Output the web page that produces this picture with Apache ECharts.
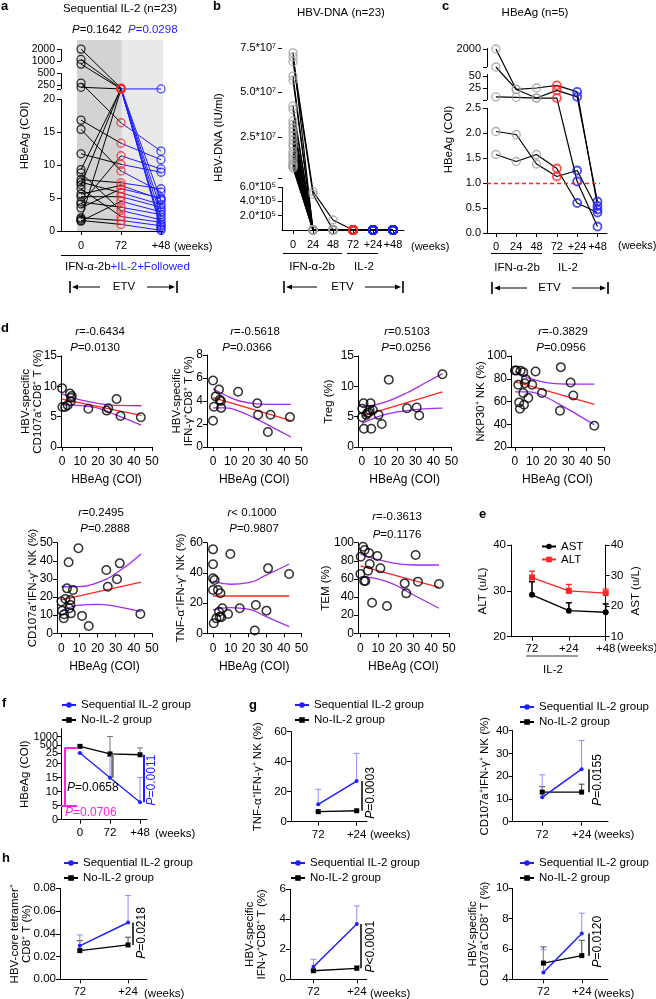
<!DOCTYPE html>
<html>
<head>
<meta charset="utf-8">
<script src="https://cdn.jsdelivr.net/npm/echarts@6.0.0/dist/echarts.min.js"></script>
<style>
html,body{margin:0;padding:0;background:#fff;}
#chart{width:656px;height:999px;}
</style>
</head>
<body>
<div id="chart"></div>
<script>
// ======================= DATA =======================
// ---- Panel a : HBeAg (COI), sequential IL-2, per patient at weeks 0 / 72 / +48
const aWeeks = ['0', '72', '+48'];
const aW0  = [2000, 1100, 840, 220, 280, 1.8, 9.3, 7.0, 16.8, 15.4, 11.7, 8.8, 7.8, 7.4, 6.4, 5.6, 5.2, 4.4, 4.1, 3.5, 2.0, 1.6, 1.5];
const aW72 = [210, 205, 200, 200, 16.4, 195, 200, 205, 13.3, 9.1, 10.1, 3.1, 7.3, 5.8, 2.2, 6.9, 5.2, 3.6, 11.4, 6.4, 1.6, 1.0, 4.5];
const aW48 = [4.6, 3.2, 200, 2.1, 12.1, 1.0, 0.3, 0.6, 10.8, 5.9, 8.9, 1.7, 6.4, 4.0, 1.3, 4.8, 3.6, 2.5, 9.4, 5.0, 0.8, 0.1, 2.9];
const aYTicks  = [0, 5, 10, 15, 20, 198, 250, 500, 1000, 2000];
const aYLabels = ['0', '5', '10', '15', '20', '', '250', '500', '1000', '2000'];
const aPhaseEdges = [-0.1, 1.02, 2.05];

// ---- Panel b : HBV-DNA (IU/ml), per patient at 0, 24, 48, 72, +24, +48
const bWeeks = ['0', '24', '48', '72', '+24', '+48'];
const bW0  = [7.23e7, 7.0e7, 6.73e7, 5.92e7, 5.69e7, 4.23e7, 4.04e7, 3.40e7, 3.21e7, 3.0e7, 2.78e7, 2.55e7, 2.31e7, 2.1e7, 1.94e7, 1.65e7, 1.5e7, 1.37e7, 1.18e7, 1.0e7, 0.92e7, 0.84e7, 0.75e7];
const bW24 = [0, 5.4e5, 5.0e5, 0, 0, 0, 0, 0, 0, 0, 0, 0, 0, 0, 0, 0, 0, 0, 0, 0, 0, 0, 0];
const bW48 = [0, 1.4e5, 0, 0, 0, 0, 0, 0, 0, 0, 0, 0, 0, 0, 0, 0, 0, 0, 0, 0, 0, 0, 0];
const bW72 = [0, 0, 0, 0, 0, 0, 0, 0, 0, 0, 0, 0, 0, 0, 0, 0, 0, 0, 0, 0, 0, 0, 0];
const bP24 = [0, 0, 0, 0, 0, 0, 0, 0, 0, 0, 0, 0, 0, 0, 0, 0, 0, 0, 0, 0, 0, 0, 0];
const bP48 = [0, 0, 0, 0, 0, 0, 0, 0, 0, 0, 0, 0, 0, 0, 0, 0, 0, 0, 0, 0, 0, 0, 0];
const bYTicks  = [2e5, 4e5, 6e5, 1.86e6, 2.5e7, 5e7, 7.5e7];
const bYLabels = ['2.0*10\u2075', '4.0*10\u2075', '6.0*10\u2075', '', '2.5*10\u2077', '5.0*10\u2077', '7.5*10\u2077'];

// ---- Panel c : HBeAg (n=5)
const cWeeks = ['0', '24', '48', '72', '+24', '+48'];
const cW0  = [2000, 700, 15, 2.03, 1.57];
const cW24 = [23, 23, 14.6, 1.97, 1.43];
const cW48 = [25, 14, 14, 1.38, 1.57];
const cW72 = [29, 21.7, 14, 1.13, 1.29];
const cP24 = [20, 15, 1.03, 1.25, 0.6];
const cP48 = [0.54, 0.63, 0.13, 0.47, 0.41];
const cYTicks  = [0, 0.5, 1, 1.5, 2, 2.5, 12.5, 25, 50, 700, 2000];
const cYLabels = ['0.0', '0.5', '1.0', '1.5', '2.0', '2.5', '', '25', '50', '', '2000'];
const cCutoff = 1.0;

// ---- Panel d : correlations with HBeAg (COI)  [x = HBeAg, y = marker]
const dXTicks = [0, 10, 20, 30, 40, 50];
const d1Pts = [[0,9.7],[0.2,6.6],[1.7,6.6],[3.1,6.9],[4.4,8.8],[5.4,8.4],[4.8,7.5],[5.0,8.1],[14.6,6.3],[24.8,6.0],[25.7,6.4],[30.3,7.9],[32.5,5.1],[43.8,4.9]];
const d1Fit = [[0,7.9],[44,5.2]];
const d1Hi  = [[0,8.75],[7,8.0],[13,7.6],[20,7.2],[30,6.85],[44,6.8]];
const d1Lo  = [[0,7.0],[7,6.9],[13,6.75],[20,6.4],[30,5.3],[44,3.6]];
const d2Pts = [[0,5.78],[0,2.28],[0.5,3.5],[1.5,4.4],[3.4,5.0],[3.8,4.1],[4.5,4.0],[4.6,3.4],[14.2,4.8],[25,3.8],[25.5,2.8],[31,1.3],[32.5,2.8],[43.5,2.6]];
const d2Fit = [[0,4.3],[44,2.3]];
const d2Hi  = [[0,5.05],[7,4.5],[15,4.0],[25,3.75],[35,3.7],[44,3.7]];
const d2Lo  = [[0,3.4],[7,3.4],[15,3.1],[25,2.4],[35,1.6],[44,0.87]];
const d3Pts = [[0,4.9],[0.2,6.3],[0.9,7.2],[1.1,3.0],[2.4,5.3],[3.0,5.6],[3.9,5.7],[4.3,6.1],[4.8,7.2],[5.2,3.0],[6.1,6.1],[9.3,5.3],[11.1,3.8],[15,11.1],[25.2,6.4],[30.6,6.5],[32,5.2],[45,12.0]];
const d3Fit = [[0,5.1],[45,9.1]];
const d3Hi  = [[0,6.7],[8,7.0],[15,7.6],[25,8.9],[35,10.5],[45,12.1]];
const d3Lo  = [[0,3.9],[8,4.9],[15,5.5],[25,6.0],[35,6.3],[45,6.4]];
const d4Pts = [[0,87.2],[0.9,87.2],[1.9,74.7],[2.4,59.2],[2.8,53.6],[3.2,87],[4.7,85.8],[4.7,67.4],[5.6,76],[5.1,57.1],[6.2,79.6],[7.5,63],[9.7,74.7],[11.6,86.4],[15.2,67.4],[25.3,51.9],[25.8,90.2],[31.3,76.7],[32.8,65.3],[44.6,38.7]];
const d4Fit = [[0,77.5],[44.6,57.5]];
const d4Hi  = [[0,86.5],[8,80.5],[15,77.5],[25,75.5],[35,75.2],[44.6,75.3]];
const d4Lo  = [[0,68.5],[8,68.5],[15,65.5],[25,57.5],[35,48.5],[44.6,39.5]];
const d5Pts = [[0,17.5],[0.4,12.5],[1.3,8.3],[1.5,10.5],[2.2,18.9],[3.1,24.8],[4,39.2],[4.4,13.8],[5,18.4],[5,15.6],[5.3,11],[6.4,23.9],[9.4,46.9],[11.4,9.6],[15.1,4],[24.8,34.9],[25.6,25.7],[30.7,29.8],[32.2,38.6],[43.6,10.7]];
const d5Fit = [[0,18.4],[44,28.3]];
const d5Hi  = [[0,25.7],[10,25.8],[20,28],[30,33],[44,43.8]];
const d5Lo  = [[0,11.9],[10,15.5],[20,16],[30,14.8],[44,11.9]];
const d6Pts = [[0,55.6],[0,45.7],[0,36.4],[0,28.7],[0.9,35.3],[0.4,6.6],[1.9,9.9],[2.8,28.7],[3.4,14.3],[3.8,11],[4.2,26.5],[4.7,10.6],[5.3,16.6],[9.8,52.5],[8.5,12.8],[15.1,16.6],[24.2,18.8],[23.6,1.8],[30.2,15],[31.1,43],[43,39.3]];
const d6Fit = [[0,24.7],[43,24.7]];
const d6Hi  = [[0,34.7],[10,32.5],[20,33.5],[30,38.5],[43,45.9]];
const d6Lo  = [[0,15.5],[10,17.0],[20,16],[30,11],[43,4.4]];
const d7Pts = [[1.5,95.6],[2.4,91.9],[0.2,84.6],[0,65.4],[2.1,57.7],[2.8,57.7],[4.9,88.6],[5.3,76.5],[4.3,69.1],[9.6,85.3],[11.3,71.7],[6.6,33.8],[15,30.1],[25,55.1],[25.9,44.1],[31.2,86.4],[32.5,57],[44.4,54.4]];
const d7Fit = [[0,74.3],[44.4,50.7]];
const d7Hi  = [[0,87.5],[15,79],[30,75.4],[44.4,75.4]];
const d7Lo  = [[0,62.5],[15,57],[30,42.3],[44.4,27.6]];

// ---- Panel e : ALT / AST (mean, SD)
const eWeeks = ['72', '+24', '+48'];
const eALT = [32.9, 30.0, 29.5], eALTsd = [1.4, 1.4, 0.9];
const eAST = [23.7, 18.5, 18.0], eASTsd = [4.3, 2.6, 2.7];
const eALTTicks = [20, 30, 40], eASTTicks = [10, 20, 30, 40];

// ---- Panel f : HBeAg by group (mean, SD)
const fWeeks = ['0', '72', '+48'];
const fSeq = [26, 15, 6.2], fSeqSd = [0, 8.4, 8.9];
const fNo  = [300, 24.6, 24.2], fNoSd = [200, 975, 148];
const fYTicks  = [0, 5, 10, 15, 20, 25, 500, 1000, 2000];
const fYLabels = ['0', '5', '10', '15', '20', '25', '500', '1000', '2000'];
const fMagenta = [5, 160];

// ---- Panels g, h : two groups at 72 / +24 (mean, SD)
const ghWeeks = ['72', '+24'];
const g1Seq = [11.6, 27.1], g1SeqSd = [10.0, 18.5], g1No = [6.7, 7.3], g1NoSd = [0, 0];
const g2Seq = [10.7, 23.1], g2SeqSd = [9.9, 12.6], g2No = [13.0, 13.0], g2NoSd = [2.4, 3.5];
const h1Seq = [0.0294, 0.0499], h1SeqSd = [0.0096, 0.0237], h1No = [0.0252, 0.0302], h1NoSd = [0.0088, 0.0068];
const h2Seq = [0.84, 3.69], h2SeqSd = [0.49, 1.20], h2No = [0.57, 0.73], h2NoSd = [0.03, 0.16];
const h3Seq = [4.45, 7.02], h3SeqSd = [1.50, 1.34], h3No = [5.07, 5.56], h3NoSd = [1.06, 1.01];

// ======================= STYLE / HELPERS =======================
const FONT = '"Liberation Sans", Arial, Helvetica, sans-serif';
const BLUE = '#1f1fff', RED = '#ff2424', GRAY = '#9b9b9b', PURPLE = '#a12cf2', MAG = '#ff1fe0', LBLUE = '#8c8cff';
const SEQ = 'Sequential IL-2 group', NO = 'No-IL-2 group';

// piecewise axis scale for broken axes: anchors [value, axisUnit, segmentMode]
function brk(anchors) {
  return v => {
    for (let i = 0; i < anchors.length - 1; i++) {
      const [v0, u0, m] = anchors[i], [v1, u1] = anchors[i + 1];
      if (v <= v1 || i === anchors.length - 2) {
        const t = m === 'log' ? Math.log(v / v0) / Math.log(v1 / v0) : (v - v0) / (v1 - v0);
        return u0 + t * (u1 - u0);
      }
    }
  };
}

const grids = [], xAxes = [], yAxes = [], series = [], legends = [], gfx = [];
function addGrid(l, t, w, h) { grids.push({left: l, top: t, width: w, height: h, containLabel: false, outerBoundsMode: 'none'}); return grids.length - 1; }
function axis(gi, o) {
  const a = {
    type: 'value', gridIndex: gi, min: o.min, max: o.max, z: o.z || 0, position: o.pos,
    axisLine: {show: o.line !== false, onZero: false, lineStyle: {color: '#000', width: 1}},
    axisTick: {show: true, length: 4, lineStyle: {color: '#000', width: 1}, customValues: o.ticks},
    axisLabel: {show: true, color: '#000', fontSize: o.fs || 11, fontFamily: FONT, margin: o.margin == null ? 5 : o.margin, customValues: o.ticks,
      formatter: v => { const i = o.ticks.findIndex(t => Math.abs(t - v) < 1e-6 * Math.max(1, Math.abs(t))); return i >= 0 ? o.labels[i] : ''; }},
    splitLine: {show: false}, nameMoveOverlap: false
  };
  if (o.name) Object.assign(a, {name: o.name, nameLocation: 'middle', nameGap: o.gap, nameRotate: o.rot,
    nameTextStyle: {color: '#000', fontSize: o.nfs || 11.5, fontFamily: FONT, lineHeight: 12}});
  return a;
}
function X(gi, o) { xAxes.push(axis(gi, o)); return xAxes.length - 1; }
function Y(gi, o) { yAxes.push(axis(gi, o)); return yAxes.length - 1; }
function L(xi, yi, data, color, w, extra) {
  series.push(Object.assign({type: 'line', xAxisIndex: xi, yAxisIndex: yi, data, symbol: 'none', lineStyle: {color, width: w || 1},
    itemStyle: {color}, silent: true, z: 2, animation: false, clip: true}, extra || {}));
}
function S(xi, yi, data, color, size, bw, extra) {
  series.push(Object.assign({type: 'scatter', xAxisIndex: xi, yAxisIndex: yi, data, symbol: 'circle', symbolSize: size || 8,
    itemStyle: {color: 'rgba(255,255,255,0)', borderColor: color, borderWidth: bw || 1.3}, silent: true, z: 3, animation: false}, extra || {}));
}
function mline(pairs, color, w, type) {
  return {silent: true, symbol: ['none', 'none'], animation: false, label: {show: false}, emphasis: {disabled: true},
    lineStyle: {color, width: w || 1, type: type || 'solid'},
    data: pairs.map(([a, b]) => [{coord: a}, {coord: b}])};
}
function errBars(xi, yi, data, color, w, cap) {
  series.push({type: 'custom', xAxisIndex: xi, yAxisIndex: yi, data, silent: true, z: 2, animation: false,
    encode: {x: 0, y: [1, 2]},
    renderItem: (p, api) => {
      const a = api.coord([api.value(0), api.value(1)]), b = api.coord([api.value(0), api.value(2)]);
      return {type: 'group', children: [
        {type: 'line', shape: {x1: a[0], y1: a[1], x2: b[0], y2: b[1]}, style: {stroke: color, lineWidth: w}},
        {type: 'line', shape: {x1: b[0] - cap, y1: b[1], x2: b[0] + cap, y2: b[1]}, style: {stroke: color, lineWidth: w}}]};
    }});
}
function T(x, y, text, o) {
  o = o || {};
  gfx.push({type: 'text', x, y, rotation: o.rot || 0, silent: true, z: 50,
    style: {text, align: o.align || 'center', verticalAlign: 'middle', textAlign: o.align || 'center', textVerticalAlign: 'middle',
      fontSize: o.size || 11, fontFamily: FONT, fontWeight: o.weight || 'normal', fill: o.color || '#000', rich: o.rich}});
}
function PT(x, y, letter, rest, o) {
  o = o || {}; const fs = o.size || 11, c = o.color || '#000';
  T(x, y, '{i|' + letter + '}{n|' + rest + '}', Object.assign({}, o, {rich: {
    i: {fontStyle: 'italic', fontSize: fs, fontFamily: FONT, fill: c}, n: {fontSize: fs, fontFamily: FONT, fill: c}}}));
}
function G(type, shape, style) { gfx.push({type, shape, style, silent: true, z: 50}); }
function hline(x1, x2, y, c, w) { G('line', {x1, y1: y, x2, y2: y}, {stroke: c || '#000', lineWidth: w || 1}); }
function etv(x0, xl, xc, xr, x1, y) {
  G('line', {x1: x0, y1: y - 6, x2: x0, y2: y + 6}, {stroke: '#000', lineWidth: 1.6});
  G('line', {x1: x1, y1: y - 6, x2: x1, y2: y + 6}, {stroke: '#000', lineWidth: 1.6});
  G('line', {x1: x0 + 6, y1: y, x2: xl, y2: y}, {stroke: '#000', lineWidth: 1});
  G('line', {x1: xr, y1: y, x2: x1 - 6, y2: y}, {stroke: '#000', lineWidth: 1});
  G('polygon', {points: [[x0 + 2, y], [x0 + 8, y - 2.6], [x0 + 8, y + 2.6]]}, {fill: '#000'});
  G('polygon', {points: [[x1 - 2, y], [x1 - 8, y - 2.6], [x1 - 8, y + 2.6]]}, {fill: '#000'});
  T(xc, y, 'ETV', {size: 11.5});
}
function leg(left, top, names, gap) {
  legends.push({left, top, orient: 'vertical', itemGap: gap == null ? 3 : gap, itemWidth: 14, itemHeight: 7, padding: 0,
    selectedMode: false, data: names, textStyle: {fontSize: 11.5, fontFamily: FONT, color: '#000'}});
}

// ======================= PANEL a =======================
const fA = brk([[0, 0, 'lin'], [20, 20, 'lin'], [198, 21.5, 'log'], [2000, 27.56]]);
const gA = addGrid(61, 40, 102, 191);
const xA = X(gA, {min: -0.5, max: 2.05, ticks: [0, 1, 2], labels: aWeeks, margin: 9, z: 5, fs: 11});
const yA = Y(gA, {min: 0, max: 28.94, ticks: aYTicks.map(fA), labels: aYLabels, line: false, name: 'HBeAg (COI)', gap: 30, margin: 6, fs: 10.5});
L(xA, yA, [], '#000', 1, {z: 1, markArea: {silent: true, animation: false, data: [
  [{xAxis: aPhaseEdges[0], itemStyle: {color: '#d3d3d3'}}, {xAxis: aPhaseEdges[1]}],
  [{xAxis: aPhaseEdges[1], itemStyle: {color: '#e9e9e9'}}, {xAxis: aPhaseEdges[2]}]]}});
aW0.forEach((v, i) => {
  L(xA, yA, [[0, fA(v)], [1, fA(aW72[i])]], '#000', 1);
  L(xA, yA, [[1, fA(aW72[i])], [2, fA(aW48[i])]], BLUE, 1);
});
S(xA, yA, aW0.map(v => [0, fA(v)]), '#000', 8, 1.3, {markLine: mline([[0, 20], [198, 500], [1000, 2000]].map(([lo, hi]) => [[-0.5, fA(lo)], [-0.5, fA(hi)]]), '#000', 1)});
S(xA, yA, aW72.map(v => [1, fA(v)]), RED, 8, 1.3);
S(xA, yA, aW48.map(v => [2, fA(v)]), BLUE, 8, 1.3);
T(120, 9, 'Sequential IL-2 (n=23)', {size: 11.5});
PT(72, 30, 'P', '=0.1642', {align: 'left', size: 11.5});
PT(128, 30, 'P', '=0.0298', {align: 'left', size: 11.5, color: BLUE});
T(174, 247, '(weeks)', {align: 'left', size: 11});
hline(61, 190, 255.5);
T(65, 267, '{k|IFN-\u03b1-2b}{b|+IL-2+Followed}', {align: 'left', rich: {
  k: {fontSize: 11.5, fontFamily: FONT, fill: '#000'}, b: {fontSize: 11.5, fontFamily: FONT, fill: BLUE}}});
etv(70, 100, 124, 147, 177, 287);

// ======================= PANEL b =======================
const fB = brk([[0, 0, 'lin'], [6e5, 6, 'lin'], [1.86e6, 7.27, 'lin'], [7.5e7, 25.45]]);
const gB = addGrid(282, 45, 122, 185);
const xB = X(gB, {min: -0.55, max: 5.55, ticks: [0, 1, 2, 3, 4, 5], labels: bWeeks, margin: 9, fs: 11});
const yB = Y(gB, {min: 0, max: 25.87, ticks: bYTicks.map(fB), labels: bYLabels, line: false, name: 'HBV-DNA (IU/ml)', gap: 57, margin: 6, fs: 11});
bW0.forEach((v, i) => L(xB, yB, [v, bW24[i], bW48[i], bW72[i], bP24[i], bP48[i]].map((u, k) => [k, fB(u)]), '#000', 1.2));
[bW0, bW24, bW48, bW72, bP24, bP48].forEach((col, k) => {
  const colr = [GRAY, GRAY, GRAY, RED, BLUE, BLUE][k];
  S(xB, yB, col.map(v => [k, fB(v)]), colr, 8, k >= 3 ? 1.8 : 1.3,
    k === 0 ? {markLine: mline([[0, 6e5], [1.86e6, 7.72e7]].map(([lo, hi]) => [[-0.55, fB(lo)], [-0.55, fB(hi)]]), '#000', 1)} : {});
});
T(341, 12.5, 'HBV-DNA (n=23)', {size: 11.5});
T(411, 247, '(weeks)', {align: 'left', size: 11});
hline(283, 342, 253.5); hline(347, 378, 253.5);
T(312, 267, 'IFN-\u03b1-2b', {size: 11.5}); T(364, 267, 'IL-2', {size: 11.5});
etv(284, 317, 342.5, 365, 403, 287);

// ======================= PANEL c =======================
const fC = brk([[0, 0, 'lin'], [2.5, 2.5, 'lin'], [12.5, 2.66, 'log'], [56, 3.18, 'lin'], [700, 3.32, 'log'], [2000, 3.68]]);
const gC = addGrid(487, 46, 120, 187);
const xC = X(gC, {min: -0.44, max: 5.47, ticks: [0, 1, 2, 3, 4, 5], labels: cWeeks, margin: 8, fs: 11});
const yC = Y(gC, {min: 0, max: 3.74, ticks: cYTicks.map(fC), labels: cYLabels, line: false, name: 'HBeAg (COI)', gap: 32, margin: 6, fs: 11});
cW0.forEach((v, i) => L(xC, yC, [v, cW24[i], cW48[i], cW72[i], cP24[i], cP48[i]].map((u, k) => [k, fC(u)]), '#000', 1.2));
[cW0, cW24, cW48, cW72, cP24, cP48].forEach((col, k) => {
  const colr = [GRAY, GRAY, GRAY, RED, BLUE, BLUE][k];
  let extra = {};
  if (k === 0) extra = {markLine: mline([[0, 2.5], [12.5, 56], [700, 2100]].map(([lo, hi]) => [[-0.44, fC(lo)], [-0.44, fC(hi)]]), '#000', 1)};
  if (k === 3) extra = {markLine: {silent: true, symbol: ['none', 'none'], animation: false, label: {show: false},
    lineStyle: {color: RED, width: 1.3, type: [4, 3]}, data: [[{coord: [-0.44, fC(cCutoff)]}, {coord: [5.12, fC(cCutoff)]}]]}};
  S(xC, yC, col.map(v => [k, fC(v)]), colr, 8, k >= 3 ? 1.8 : 1.3, extra);
});
T(535, 12.5, 'HBeAg (n=5)', {size: 11.5});
T(618, 246, '(weeks)', {align: 'left', size: 11});
hline(491, 542, 253.5); hline(553, 583, 253.5);
T(517, 268, 'IFN-\u03b1-2b', {size: 11.5}); T(568, 268, 'IL-2', {size: 11.5});
etv(492, 527, 549.5, 572, 608, 288);

// ======================= PANEL d =======================
const dCfg = [
  {box: [61, 356, 91, 91],     xmin: -0.6,  yT: [0, 5, 10, 15],          pts: d1Pts, fit: d1Fit, hi: d1Hi, lo: d1Lo, yName: 'HBV-specific\nCD107a\u207aCD8\u207a T (%)', gap: 17, r: '=-0.6434', p: '=0.0130', rx: 100, ry: 332, px: 95, py: 348},
  {box: [207, 355, 94.5, 92],  xmin: -3.4,  yT: [0, 2, 4, 6, 8],         pts: d2Pts, fit: d2Fit, hi: d2Hi, lo: d2Lo, yName: 'HBV-specific\nIFN-\u03b3\u207aCD8\u207a T (%)', gap: 12, r: '=-0.5618', p: '=0.0366', rx: 255, ry: 332, px: 247, py: 348},
  {box: [358, 356, 93.4, 91],  xmin: -2.2,  yT: [0, 5, 10, 15],          pts: d3Pts, fit: d3Fit, hi: d3Hi, lo: d3Lo, yName: 'Treg (%)', gap: 23, r: '=0.5103', p: '=0.0256', rx: 407, ry: 332, px: 406, py: 348},
  {box: [511, 356, 92.9, 91],  xmin: -2.2,  yT: [20, 40, 60, 80, 100],   pts: d4Pts, fit: d4Fit, hi: d4Hi, lo: d4Lo, yName: 'NKP30\u207a NK (%)', gap: 24, r: '=-0.3829', p: '=0.0956', rx: 563, ry: 332, px: 561, py: 348},
  {box: [57, 542.7, 95, 90.6], xmin: -2.4,  yT: [0, 10, 20, 30, 40, 50], pts: d5Pts, fit: d5Fit, hi: d5Hi, lo: d5Lo, yName: 'CD107a\u207aIFN-\u03b3\u207a NK (%)', gap: 18, r: '=0.2495', p: '=0.2888', rx: 101, ry: 513, px: 105, py: 529},
  {box: [207, 542.7, 94.5, 90.6], xmin: -3.4, yT: [0, 20, 40, 60],       pts: d6Pts, fit: d6Fit, hi: d6Hi, lo: d6Lo, yName: 'TNF-\u03b1\u207aIFN-\u03b3\u207a NK (%)', gap: 20, r: '< 0.1000', p: '=0.9807', rx: 252, ry: 513, px: 254, py: 529},
  {box: [358, 542.7, 90.9, 90.6], xmin: -1.35, yT: [0, 20, 40, 60, 80, 100], pts: d7Pts, fit: d7Fit, hi: d7Hi, lo: d7Lo, yName: 'TEM (%)', gap: 26, r: '=-0.3613', p: '=0.1176', rx: 397, ry: 517, px: 397, py: 535}
];
dCfg.forEach(c => {
  const gi = addGrid(c.box[0], c.box[1], c.box[2], c.box[3]);
  const xi = X(gi, {min: c.xmin, max: 50, ticks: dXTicks, labels: dXTicks.map(String), margin: 9, fs: 12, name: 'HBeAg (COI)', gap: 27, nfs: 12});
  const yi = Y(gi, {min: c.yT[0], max: c.yT[c.yT.length - 1], ticks: c.yT, labels: c.yT.map(String), margin: 4, fs: 12, name: c.yName, gap: c.gap, nfs: 11.5});
  L(xi, yi, c.hi, PURPLE, 1.3, {smooth: true});
  L(xi, yi, c.lo, PURPLE, 1.3, {smooth: true});
  L(xi, yi, c.fit, RED, 1.3);
  S(xi, yi, c.pts, '#000', 8.5, 1.5);
  PT(c.rx, c.ry, 'r', c.r, {size: 11.5});
  PT(c.px, c.py, 'P', c.p, {size: 11.5});
});

// ======================= PANEL e =======================
const gE = addGrid(511, 545, 94.7, 91.7);
const xE = X(gE, {min: -0.57, max: 2, ticks: [0, 1, 2], labels: eWeeks, margin: 6, fs: 11.5});
const yEL = Y(gE, {min: 20, max: 40, ticks: eALTTicks, labels: eALTTicks.map(String), name: 'ALT (u/L)', gap: 22, fs: 11.5});
const yER = Y(gE, {min: 10, max: 40, ticks: eASTTicks, labels: eASTTicks.map(String), pos: 'right', name: 'AST (u/L)', gap: 24, rot: 90, fs: 11.5});
errBars(xE, yEL, eALT.map((v, i) => [i, v, v + eALTsd[i]]), RED, 1.3, 3);
errBars(xE, yER, eAST.map((v, i) => [i, v, v + eASTsd[i]]), '#000', 1.6, 3);
series.push({name: 'AST', type: 'line', xAxisIndex: xE, yAxisIndex: yER, data: eAST.map((v, i) => [i, v]), symbol: 'circle', symbolSize: 6,
  lineStyle: {color: '#000', width: 1.3}, itemStyle: {color: '#000'}, z: 3, silent: true, animation: false});
series.push({name: 'ALT', type: 'line', xAxisIndex: xE, yAxisIndex: yEL, data: eALT.map((v, i) => [i, v]), symbol: 'rect', symbolSize: 6,
  lineStyle: {color: RED, width: 1.3}, itemStyle: {color: RED}, z: 3, silent: true, animation: false});
leg(541, 540.5, ['AST', 'ALT'], 1);
T(617, 648, '(weeks)', {align: 'left', size: 11.5});
hline(526, 578, 656, '#999', 2);
T(553, 670, 'IL-2', {size: 11.5});

// ======================= PANEL f =======================
const fF = brk([[0, 0, 'lin'], [20, 20, 'lin'], [25, 23.8, 'log'], [500, 26.68, 'log'], [1000, 29.7, 'log'], [2000, 31.9]]);
const gF = addGrid(61, 728.7, 86, 91);
const xF = X(gF, {min: -0.63, max: 2.23, ticks: [0, 1, 2], labels: fWeeks, margin: 7, fs: 11.5});
const yF = Y(gF, {min: 0, max: 32.5, ticks: fYTicks.map(fF), labels: fYLabels, name: 'HBeAg (COI)', gap: 30, margin: 3, fs: 11});
errBars(xF, yF, fNo.map((v, i) => [i, fF(v), fF(v + fNoSd[i])]), '#777', 1, 3);
errBars(xF, yF, fSeq.map((v, i) => [i, fF(v), fF(v + fSeqSd[i])]), LBLUE, 1, 3);
series.push({name: NO, type: 'line', xAxisIndex: xF, yAxisIndex: yF, data: fNo.map((v, i) => [i, fF(v)]), symbol: 'rect', symbolSize: 5,
  lineStyle: {color: '#000', width: 1.3}, itemStyle: {color: '#000'}, z: 3, silent: true, animation: false,
  markLine: mline([[[1.09, fF(fNo[1])], [1.09, fF(fSeq[1])]]], '#6e6e6e', 2.5)});
series.push({name: SEQ, type: 'line', xAxisIndex: xF, yAxisIndex: yF, data: fSeq.map((v, i) => [i, fF(v)]), symbol: 'circle', symbolSize: 4,
  lineStyle: {color: BLUE, width: 1.3}, itemStyle: {color: BLUE}, z: 3, silent: true, animation: false,
  markLine: mline([[[2.11, fF(fNo[2])], [2.11, fF(fSeq[2])]]], BLUE, 2)});
L(xF, yF, [], MAG, 1, {markLine: mline([
  [[-0.52, fF(fMagenta[0])], [-0.52, fF(fMagenta[1])]],
  [[-0.52, fF(fMagenta[1])], [-0.07, fF(fMagenta[1])]],
  [[-0.63, fF(fMagenta[0])], [-0.1, fF(fMagenta[0])]]], MAG, 2)});
leg(61, 699, [SEQ, NO]);
PT(67, 788, 'P', '=0.0658', {align: 'left', size: 12});
PT(65, 813, 'P', '=0.0706', {align: 'left', size: 12, color: MAG});
PT(151.7, 780, 'P', '=0.0011', {size: 12, color: BLUE, rot: Math.PI / 2});
T(155, 834, '(weeks)', {align: 'left', size: 11.5});

// ======================= PANELS g, h =======================
function grp(c) {
  const gi = addGrid(c.box[0], c.box[1], c.box[2], c.box[3]);
  const xi = X(gi, {min: c.xmin, max: c.xmax, ticks: [0, 1], labels: ghWeeks, margin: 7, fs: 11.5});
  const yi = Y(gi, {min: c.yT[0], max: c.yT[c.yT.length - 1], ticks: c.yT, labels: c.yL, name: c.yName, gap: c.gap, margin: 4, fs: 11.5});
  errBars(xi, yi, c.no.map((v, i) => [i, v, v + c.noSd[i]]), '#444', 1, 3);
  errBars(xi, yi, c.seq.map((v, i) => [i, v, v + c.seqSd[i]]), LBLUE, 1, 3);
  series.push({name: NO, type: 'line', xAxisIndex: xi, yAxisIndex: yi, data: c.no.map((v, i) => [i, v]), symbol: 'rect', symbolSize: 5,
    lineStyle: {color: '#000', width: 1.3}, itemStyle: {color: '#000'}, z: 3, silent: true, animation: false,
    markLine: mline([[[c.bx, c.no[1]], [c.bx, c.seq[1]]]], '#000', 1.5)});
  series.push({name: SEQ, type: 'line', xAxisIndex: xi, yAxisIndex: yi, data: c.seq.map((v, i) => [i, v]), symbol: 'circle', symbolSize: 4,
    lineStyle: {color: BLUE, width: 1.5}, itemStyle: {color: BLUE}, z: 4, silent: true, animation: false});
  PT(c.px, c.py, 'P', c.p, {rot: Math.PI / 2, size: 12});
  T(c.wx, c.wy, '(weeks)', {align: 'left', size: 11.5});
  leg(c.leg[0], c.leg[1], [SEQ, NO]);
}
grp({box: [291, 731.7, 76, 90], xmin: -0.71, xmax: 1.27, yT: [0, 20, 40, 60], yL: ['0', '20', '40', '60'],
  yName: 'TNF-\u03b1\u207aIFN-\u03b3\u207a NK (%)', gap: 27, seq: g1Seq, seqSd: g1SeqSd, no: g1No, noSd: g1NoSd,
  bx: 1.13, p: '=0.0003', px: 371, py: 793, wx: 370, wy: 835, leg: [294, 699]});
grp({box: [512.7, 730.7, 95.3, 91], xmin: -0.75, xmax: 1.67, yT: [0, 10, 20, 30, 40], yL: ['0', '10', '20', '30', '40'],
  yName: 'CD107a\u207aIFN-\u03b3\u207a NK (%)', gap: 22, seq: g2Seq, seqSd: g2SeqSd, no: g2No, noSd: g2NoSd,
  bx: 1.17, p: '=0.0155', px: 597.5, py: 780, wx: 594, wy: 835, leg: [519, 701]});
grp({box: [60, 888.3, 86.9, 91], xmin: -0.41, xmax: 1.39, yT: [0, 0.02, 0.04, 0.06, 0.08], yL: ['0.00', '0.02', '0.04', '0.06', '0.08'],
  yName: 'HBV-core tetramer\u207a\nCD8\u207a T (%)', gap: 27, seq: h1Seq, seqSd: h1SeqSd, no: h1No, noSd: h1NoSd,
  bx: 1.09, p: '=0.0218', px: 142, py: 933, wx: 144, wy: 994, leg: [63, 857]});
grp({box: [290, 889.3, 76.8, 90], xmin: -0.54, xmax: 1.23, yT: [0, 2, 4, 6], yL: ['0', '2', '4', '6'],
  yName: 'HBV-specific\nIFN-\u03b3\u207aCD8\u207a T (%)', gap: 22, seq: h2Seq, seqSd: h2SeqSd, no: h2No, noSd: h2NoSd,
  bx: 1.09, p: '<0.0001', px: 371, py: 946.7, wx: 370, wy: 994, leg: [290, 857]});
grp({box: [512.7, 888.3, 95.2, 91], xmin: -0.8, xmax: 1.68, yT: [4, 6, 8, 10], yL: ['4', '6', '8', '10'],
  yName: 'HBV-specific\nCD107a\u207aCD8\u207a T (%)', gap: 22, seq: h3Seq, seqSd: h3SeqSd, no: h3No, noSd: h3NoSd,
  bx: 1.17, p: '=0.0120', px: 597.5, py: 941.7, wx: 594, wy: 994, leg: [519, 857]});

// ======================= PANEL LETTERS =======================
[['a', 1, 6], ['b', 213, 6], ['c', 442, 6], ['d', 1, 328], ['e', 479, 514], ['f', 2, 703], ['g', 249, 705], ['h', 2, 858]]
  .forEach(([s, x, y]) => T(x, y, s, {align: 'left', weight: 'bold', size: 13}));

// ======================= RENDER =======================
const chart = echarts.init(document.getElementById('chart'), null, {renderer: 'canvas', width: 656, height: 999});
chart.setOption({
  animation: false,
  backgroundColor: '#fff',
  textStyle: {fontFamily: FONT},
  grid: grids, xAxis: xAxes, yAxis: yAxes, series, legend: legends,
  graphic: {elements: gfx}
});
</script>
</body>
</html>
